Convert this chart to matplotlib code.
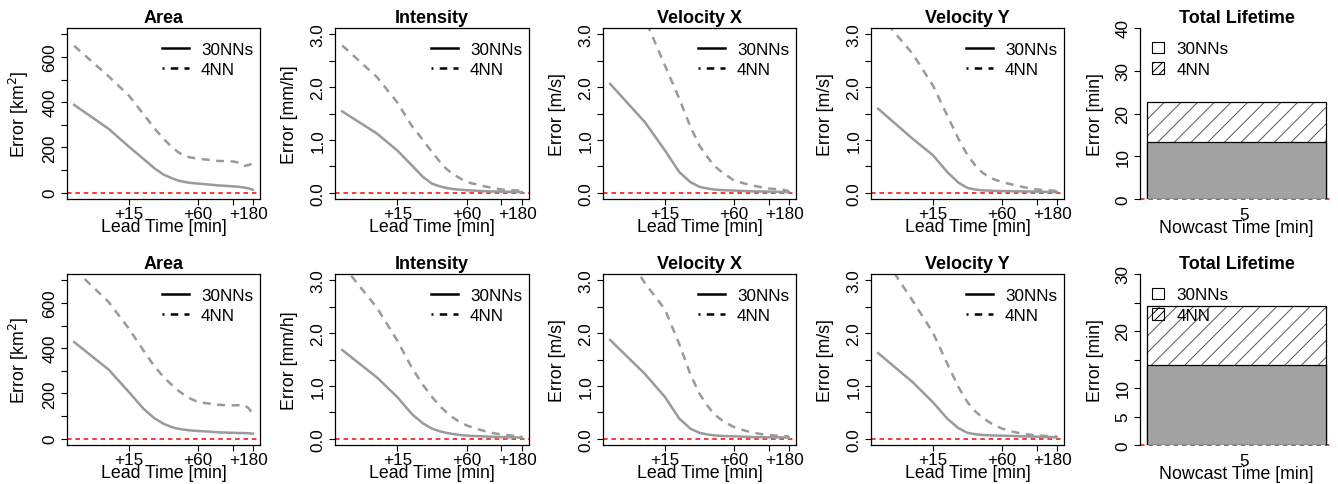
import matplotlib
matplotlib.use("Agg")
import matplotlib.pyplot as plt
import matplotlib.transforms as mtransforms
from matplotlib.lines import Line2D
from matplotlib.patches import Patch

plt.rcParams['font.family'] = ['Liberation Sans', 'DejaVu Sans']
plt.rcParams['hatch.linewidth'] = 0.7

# ---------------- data ----------------
lead_times = [5, 10, 15, 20, 25, 30, 35, 40, 45, 50, 60, 75, 90, 105, 120, 135, 150, 165, 180]
lead_ticks = [15, 60, 120, 180]
lead_tick_labels = ['+15', '+60', '', '+180']
series_names = ['30NNs', '4NN']
panel_titles = ['Area', 'Intensity', 'Velocity X', 'Velocity Y', 'Total Lifetime']
y_labels = ['Error [km$^2$]', 'Error [mm/h]', 'Error [m/s]', 'Error [m/s]', 'Error [min]']

# top row
area_30nn_top = [388, 282, 203, 150, 108, 80, 65, 54, 48, 44, 40, 36, 32, 30, 28, 26, 23, 19, 13]
area_4nn_top = [649, 514, 429, 348, 285, 238, 205, 180, 165, 157, 150, 145, 140, 140, 138, 133, 118, 122, 130]
int_30nn_top = [1.54, 1.12, 0.80, 0.52, 0.30, 0.17, 0.12, 0.09, 0.07, 0.06, 0.045, 0.035, 0.025, 0.022, 0.02, 0.018, 0.015, 0.012, 0.01]
int_4nn_top = [2.79, 2.19, 1.71, 1.27, 1.00, 0.77, 0.59, 0.45, 0.36, 0.30, 0.20, 0.15, 0.11, 0.08, 0.06, 0.05, 0.045, 0.04, 0.03]
vx_30nn_top = [2.06, 1.34, 0.80, 0.39, 0.20, 0.11, 0.08, 0.06, 0.05, 0.045, 0.04, 0.03, 0.025, 0.022, 0.02, 0.018, 0.015, 0.012, 0.01]
vx_4nn_top = [4.3, 3.3, 2.41, 1.78, 1.25, 0.89, 0.68, 0.52, 0.42, 0.35, 0.23, 0.17, 0.13, 0.10, 0.08, 0.07, 0.06, 0.05, 0.03]
vy_30nn_top = [1.59, 1.02, 0.71, 0.39, 0.19, 0.09, 0.06, 0.045, 0.04, 0.035, 0.03, 0.027, 0.025, 0.022, 0.02, 0.018, 0.015, 0.012, 0.01]
vy_4nn_top = [3.4, 2.63, 2.03, 1.46, 1.02, 0.71, 0.52, 0.39, 0.31, 0.26, 0.20, 0.15, 0.11, 0.08, 0.06, 0.05, 0.045, 0.04, 0.03]
life_30nn_top = 13.3
life_4nn_top = 22.8

# bottom row
area_30nn_bot = [427, 305, 206, 133, 90, 66, 52, 44, 40, 37, 34, 31, 28, 27, 26, 25, 25, 24, 22]
area_4nn_bot = [750, 604, 486, 391, 320, 273, 240, 214, 195, 180, 162, 155, 150, 148, 147, 148, 150, 135, 110]
int_30nn_bot = [1.68, 1.16, 0.79, 0.47, 0.29, 0.19, 0.14, 0.11, 0.09, 0.075, 0.057, 0.047, 0.04, 0.035, 0.03, 0.028, 0.025, 0.022, 0.02]
int_4nn_bot = [3.3, 2.48, 1.86, 1.35, 1.02, 0.79, 0.62, 0.50, 0.41, 0.34, 0.25, 0.18, 0.13, 0.10, 0.08, 0.068, 0.057, 0.05, 0.044]
vx_30nn_bot = [1.87, 1.23, 0.79, 0.38, 0.19, 0.11, 0.08, 0.063, 0.055, 0.05, 0.044, 0.037, 0.03, 0.028, 0.025, 0.025, 0.025, 0.022, 0.02]
vx_4nn_bot = [4.0, 2.95, 2.45, 1.79, 1.22, 0.85, 0.63, 0.47, 0.38, 0.31, 0.22, 0.15, 0.11, 0.085, 0.07, 0.06, 0.05, 0.047, 0.044]
vy_30nn_bot = [1.62, 1.07, 0.69, 0.38, 0.20, 0.11, 0.085, 0.07, 0.065, 0.06, 0.057, 0.05, 0.044, 0.04, 0.038, 0.034, 0.03, 0.028, 0.025]
vy_4nn_bot = [3.6, 2.61, 2.01, 1.42, 0.98, 0.69, 0.52, 0.41, 0.33, 0.27, 0.19, 0.13, 0.094, 0.075, 0.063, 0.056, 0.05, 0.047, 0.044]
life_30nn_bot = 14.0
life_4nn_bot = 24.3

area_yticks = [0, 100, 200, 300, 400, 500, 600, 700]
area_ylabels = ['0', '', '200', '', '400', '', '600', '']
err_yticks = [0, 0.5, 1.0, 1.5, 2.0, 2.5, 3.0]
err_ylabels = ['0.0', '', '1.0', '', '2.0', '', '3.0']
life_yticks_top = [0, 10, 20, 30, 40]
life_ylabels_top = ['0', '10', '20', '30', '40']
life_yticks_bot = [0, 5, 10, 15, 20, 25, 30]
life_ylabels_bot = ['0', '5', '10', '', '20', '', '30']

# ---------------- layout ----------------
W, H = 1338, 485
fig = plt.figure(figsize=(W / 100, H / 100), dpi=100)

def box(x0, x1, y0, y1):
    return [x0 / W, 1 - y1 / H, (x1 - x0) / W, (y1 - y0) / H]

col_x = [(67, 260), (335, 529), (603, 796), (871, 1064), (1140, 1333)]
row_y = [(29, 200), (275, 446)]
AX_W, AX_H = 193.0, 171.0

GRAY = '#9a9a9a'
FT = 12.3   # tick labels
FL = 12.8   # axis labels
FLEG = 12.3  # legend
FTI = 13.0  # titles

def shift_label(lab, dx_px):
    lab.set_transform(lab.get_transform() +
                      mtransforms.ScaledTranslation(dx_px / 100, 0, fig.dpi_scale_trans))

def style_axes(ax):
    ax.tick_params(direction='out', length=4.3, width=0.8, labelsize=FT)
    ax.tick_params(axis='y', pad=2.5)
    ax.tick_params(axis='x', pad=0.8)
    for lab in ax.get_yticklabels():
        lab.set_rotation(90)
        lab.set_va('center')

def line_panel(ax, title, ylab, s30, s4, ylim, yticks, ylabels, ylab_off):
    ax.axhline(0, color='red', lw=1.1, ls=(0, (3, 2.5)), zorder=1)
    ax.plot(lead_times, s30, color=GRAY, lw=1.8, zorder=2)
    ax.plot(lead_times, s4, color=GRAY, lw=1.8, ls=(0, (3.2, 2.6)), zorder=2)
    ax.set_xscale('log')
    ax.set_xlim(5 * 0.866, 180 / 0.866)
    ax.set_ylim(*ylim)
    ax.set_xticks(lead_ticks)
    ax.set_xticklabels(lead_tick_labels)
    ax.minorticks_off()
    ax.set_yticks(yticks)
    ax.set_yticklabels(ylabels)
    ax.set_title(title, fontsize=FTI, fontweight='bold', pad=4)
    ax.set_xlabel('Lead Time [min]', fontsize=FL, va='center')
    ax.xaxis.set_label_coords(0.5, -28 / AX_H)
    ax.set_ylabel(ylab, fontsize=FL, va='center')
    ax.yaxis.set_label_coords(-ylab_off / AX_W, 0.5)
    style_axes(ax)
    shift_label(ax.get_xticklabels()[-1], -4)
    for sp in ax.spines.values():
        sp.set_linewidth(0.9)
    handles = [Line2D([], [], color='black', lw=1.8),
               Line2D([], [], color='black', lw=1.8, ls=(2.2, (3, 2.5)))]
    ax.legend(handles, series_names, loc='upper right', frameon=False,
              fontsize=FLEG, handlelength=1.6, handletextpad=0.7,
              labelspacing=0.28, borderaxespad=0.0,
              bbox_to_anchor=(1.0, 1 - 7.5 / AX_H))

def life_panel(ax, v30, v4, ylim, yticks, ylabels):
    ax.axhline(0, color='red', lw=1.1, ls=(0, (3, 2.5)), zorder=1, clip_on=False)
    ax.bar([0.7], [v4], width=1.0, facecolor='white', edgecolor='#555555',
           hatch='//', lw=0, zorder=2)
    ax.bar([0.7], [v4], width=1.0, facecolor='none', edgecolor='black', lw=0.9, zorder=3)
    ax.bar([0.7], [v30], width=1.0, facecolor='#a3a3a3', edgecolor='black', lw=0.9, zorder=4)
    ax.set_xlim(0.16, 1.24)
    ax.set_ylim(*ylim)
    ax.set_yticks(yticks)
    ax.set_yticklabels(ylabels)
    ax.set_xticks([0.7])
    ax.set_xticklabels(['5'])
    for s in ['top', 'right', 'bottom']:
        ax.spines[s].set_visible(False)
    ax.spines['left'].set_linewidth(0.9)
    ax.set_title('Total Lifetime', fontsize=FTI, fontweight='bold', pad=4)
    ax.set_xlabel('Nowcast Time [min]', fontsize=FL, va='center')
    ax.xaxis.set_label_coords(0.5, -29 / AX_H)
    ax.set_ylabel('Error [min]', fontsize=FL, va='center')
    ax.yaxis.set_label_coords(-45 / AX_W, 0.5)
    style_axes(ax)
    ax.tick_params(axis='x', length=0, pad=5.5)
    shift_label(ax.get_xticklabels()[0], 8)
    handles = [Patch(facecolor='white', edgecolor='black', lw=0.8),
               Patch(facecolor='white', edgecolor='black', lw=0.8, hatch='////')]
    leg = ax.legend(handles, series_names, loc='upper left', frameon=False,
                    fontsize=FLEG, handlelength=0.7, handleheight=0.7,
                    handletextpad=0.75, labelspacing=0.3,
                    borderaxespad=0.3, bbox_to_anchor=(0.0, 1 - 1.5 / AX_H))
    leg.set_zorder(5)

rows = [
    dict(area=(area_30nn_top, area_4nn_top), inten=(int_30nn_top, int_4nn_top),
         vx=(vx_30nn_top, vx_4nn_top), vy=(vy_30nn_top, vy_4nn_top),
         life=(life_30nn_top, life_4nn_top), lylim=(0, 40),
         lyt=life_yticks_top, lyl=life_ylabels_top),
    dict(area=(area_30nn_bot, area_4nn_bot), inten=(int_30nn_bot, int_4nn_bot),
         vx=(vx_30nn_bot, vx_4nn_bot), vy=(vy_30nn_bot, vy_4nn_bot),
         life=(life_30nn_bot, life_4nn_bot), lylim=(0, 30),
         lyt=life_yticks_bot, lyl=life_ylabels_bot),
]

for r, d in enumerate(rows):
    y0, y1 = row_y[r]
    keys = ['area', 'inten', 'vx', 'vy']
    for c, k in enumerate(keys):
        ax = fig.add_axes(box(col_x[c][0], col_x[c][1], y0, y1))
        if k == 'area':
            line_panel(ax, panel_titles[c], y_labels[c], d[k][0], d[k][1],
                       (-28, 728), area_yticks, area_ylabels, 48)
        else:
            line_panel(ax, panel_titles[c], y_labels[c], d[k][0], d[k][1],
                       (-0.12, 3.12), err_yticks, err_ylabels, 45)
    ax = fig.add_axes(box(col_x[4][0], col_x[4][1], y0, y1))
    life_panel(ax, d['life'][0], d['life'][1], d['lylim'], d['lyt'], d['lyl'])

fig.savefig('out.png', dpi=100)
